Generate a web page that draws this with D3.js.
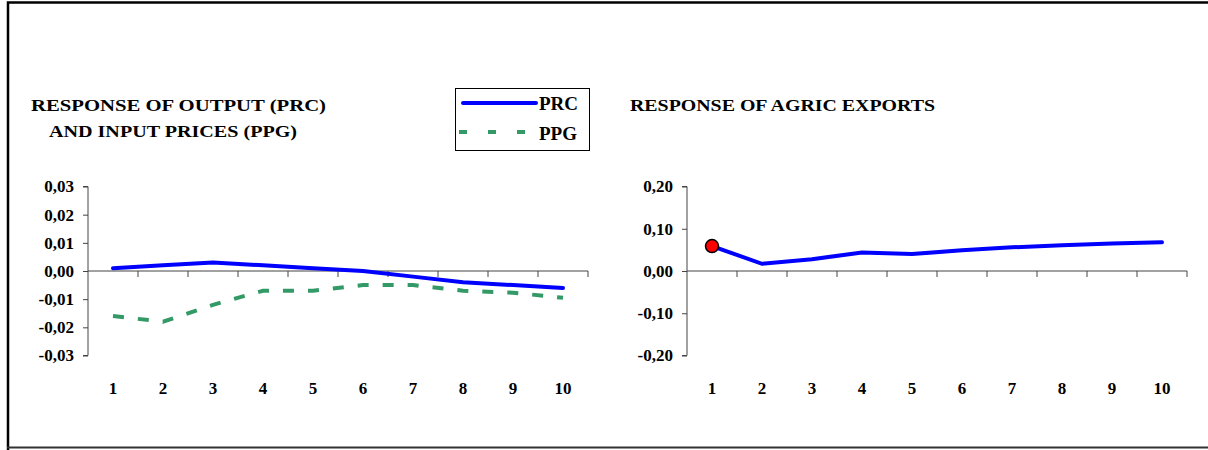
<!DOCTYPE html>
<html>
<head>
<meta charset="utf-8">
<script src="https://cdn.jsdelivr.net/npm/d3@7"></script>
<style>
  body { margin: 0; background: #fff; }
  text { font-family: "Liberation Serif", "DejaVu Serif", serif; font-weight: bold; fill: #000; }
</style>
</head>
<body>
<svg id="chart" width="1208" height="450"></svg>
<script>
// Perioden
const periods = [1, 2, 3, 4, 5, 6, 7, 8, 9, 10];

// Linkes Diagramm: Output- und Inputpreise
const prc = [0.001, 0.002, 0.003, 0.002, 0.001, 0.000, -0.002, -0.004, -0.005, -0.006];
const ppg = [-0.016, -0.018, -0.012, -0.007, -0.007, -0.005, -0.005, -0.007, -0.0077, -0.0095];
const leftTicks = [-0.03, -0.02, -0.01, 0, 0.01, 0.02, 0.03];

// Rechtes Diagramm: Agrarexporte
const agric = [0.059, 0.017, 0.028, 0.044, 0.040, 0.049, 0.056, 0.061, 0.065, 0.068];
const rightTicks = [-0.2, -0.1, 0, 0.1, 0.2];

const fmt2 = d => d3.format(".2f")(d).replace(".", ",").replace("−", "-");

const svg = d3.select("#chart");

// Rahmen
svg.append("path")
    .attr("d", "M8,452 L8,2.5 L1212,2.5")
    .attr("fill", "none")
    .attr("stroke", "#000")
    .attr("stroke-width", 2.5);
svg.append("line")
    .attr("x1", 7).attr("x2", 1212).attr("y1", 447.5).attr("y2", 447.5)
    .attr("stroke", "#333").attr("stroke-width", 2);

function drawPanel(x0, domain, ticks, series) {
    const xScale = d3.scaleBand()
        .domain(periods)
        .range([x0, x0 + 500]);

    const yScale = d3.scaleLinear()
        .domain(domain)
        .range([355.5, 186.5]);

    // Y Achse
    const yAxis = svg.append("g")
        .attr("transform", `translate(${x0}, 0)`)
        .call(d3.axisLeft(yScale).tickValues(ticks).tickFormat(fmt2).tickSize(5).tickPadding(9));
    yAxis.select(".domain").attr("stroke", "#444").attr("d", `M-5,186.5H0V355.5H-5`);
    yAxis.selectAll(".tick line").attr("stroke", "#444");
    yAxis.selectAll("text")
        .attr("font-size", 17)
        .attr("font-family", "Liberation Serif")
        .attr("font-weight", "bold");

    // X Achse bei 0 mit Teilstrichen an Bandgrenzen
    const y0 = yScale(0);
    svg.append("line")
        .attr("x1", x0).attr("x2", x0 + 500)
        .attr("y1", y0).attr("y2", y0)
        .attr("stroke", "#444");
    svg.append("g").selectAll("line")
        .data(periods)
        .join("line")
            .attr("x1", d => xScale(d) + xScale.bandwidth())
            .attr("x2", d => xScale(d) + xScale.bandwidth())
            .attr("y1", y0).attr("y2", y0 + 6)
            .attr("stroke", "#444");

    // Kategorien unten
    svg.append("g").selectAll("text")
        .data(periods)
        .join("text")
            .attr("x", d => xScale(d) + xScale.bandwidth() / 2)
            .attr("y", 394)
            .attr("text-anchor", "middle")
            .attr("font-size", 17)
            .text(d => d);

    // Linien
    series.forEach(s => {
        const line = d3.line()
            .x((d, i) => xScale(periods[i]) + xScale.bandwidth() / 2)
            .y(d => yScale(d));
        svg.append("path")
            .datum(s.values)
            .attr("fill", "none")
            .attr("stroke", s.color)
            .attr("stroke-width", 4)
            .attr("stroke-linecap", s.dash ? "butt" : "round")
            .attr("stroke-dasharray", s.dash || null)
            .attr("d", line);
    });

    return { xScale, yScale };
}

const left = drawPanel(88, [-0.03, 0.03], leftTicks, [
    { values: prc, color: "#0000ff" },
    { values: ppg, color: "#339966", dash: "11,14" }
]);

const right = drawPanel(687, [-0.2, 0.2], rightTicks, [
    { values: agric, color: "#0000ff" }
]);

// Roter Punkt beim ersten Wert
svg.append("circle")
    .attr("cx", right.xScale(periods[0]) + right.xScale.bandwidth() / 2)
    .attr("cy", right.yScale(agric[0]))
    .attr("r", 6.5)
    .attr("fill", "#ff0000")
    .attr("stroke", "#000")
    .attr("stroke-width", 1.5);

// Titel
svg.append("text").attr("x", 31).attr("y", 111).attr("font-size", 17)
    .attr("textLength", 295).attr("lengthAdjust", "spacingAndGlyphs")
    .text("RESPONSE OF OUTPUT (PRC)");
svg.append("text").attr("x", 49).attr("y", 137).attr("font-size", 17)
    .attr("textLength", 248).attr("lengthAdjust", "spacingAndGlyphs")
    .text("AND INPUT PRICES (PPG)");
svg.append("text").attr("x", 630).attr("y", 111).attr("font-size", 17)
    .attr("textLength", 305).attr("lengthAdjust", "spacingAndGlyphs")
    .text("RESPONSE OF AGRIC EXPORTS");

// Legende
const legend = svg.append("g");
legend.append("rect")
    .attr("x", 455.5).attr("y", 88.5).attr("width", 134).attr("height", 62)
    .attr("fill", "#fff").attr("stroke", "#000");
legend.append("line")
    .attr("x1", 463).attr("x2", 536).attr("y1", 103).attr("y2", 103)
    .attr("stroke", "#0000ff").attr("stroke-width", 4).attr("stroke-linecap", "round");
legend.append("line")
    .attr("x1", 459).attr("x2", 530).attr("y1", 132).attr("y2", 132)
    .attr("stroke", "#339966").attr("stroke-width", 4).attr("stroke-dasharray", "8,21");
legend.append("text").attr("x", 539).attr("y", 110).attr("font-size", 19).text("PRC");
legend.append("text").attr("x", 539).attr("y", 140).attr("font-size", 19).text("PPG");
</script>
</body>
</html>
